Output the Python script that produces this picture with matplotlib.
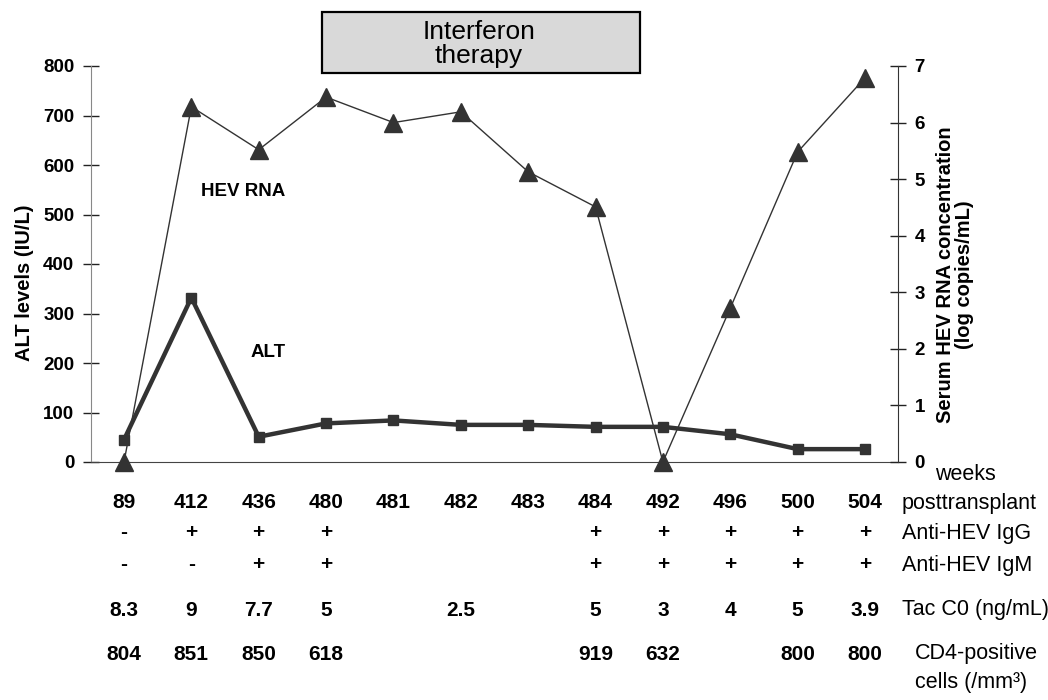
import matplotlib as mpl
mpl.use('Agg')
import matplotlib.pyplot as plt
import matplotlib.patches as patches
import matplotlib.transforms as mtrans

plt.rcParams['font.family'] = ['Liberation Sans', 'DejaVu Sans']

# data
weeks = ['89', '412', '436', '480', '481', '482', '483', '484', '492', '496', '500', '504']
alt = [45, 332, 51, 78, 84, 75, 75, 71, 71, 56, 26, 26]
hev_rna = [0, 6.28, 5.52, 6.45, 6.0, 6.19, 5.13, 4.51, 0, 2.72, 5.48, 6.79]
igg = ['-', '+', '+', '+', '', '', '', '+', '+', '+', '+', '+']
igm = ['-', '-', '+', '+', '', '', '', '+', '+', '+', '+', '+']
tac_c0 = ['8.3', '9', '7.7', '5', '', '2.5', '', '5', '3', '4', '5', '3.9']
cd4 = ['804', '851', '850', '618', '', '', '', '919', '632', '', '800', '800']

W, H = 1048, 700
fig = plt.figure(figsize=(W / 100, H / 100), dpi=100)

def fx(px):
    return px / W

def fy(py):
    return 1 - py / H

# axes box in pixels: left 91, right 898, top 66, bottom 462
ax = fig.add_axes([fx(91), fy(462), fx(898) - fx(91), fy(66) - fy(462)])
ax2 = ax.twinx()

xs = list(range(len(weeks)))
ink = '#333333'

ax.plot(xs, alt, color=ink, lw=3.2, marker='s', ms=7, clip_on=False, zorder=3)
ax2.plot(xs, hev_rna, color=ink, lw=1.0, marker='^', ms=13, clip_on=False, zorder=3)

ax.set_xlim(-0.49, len(weeks) - 0.51)
ax.set_ylim(0, 800)
ax2.set_ylim(0, 7)
ax.set_yticks(range(0, 801, 100))
ax2.set_yticks(range(0, 8))
ax.set_xticks([])

for s in ['top', 'right']:
    ax.spines[s].set_visible(False)
for s in ['top', 'left', 'bottom']:
    ax2.spines[s].set_visible(False)
ax.spines['left'].set_color('#888888')
ax.spines['bottom'].set_color('#444444')
ax2.spines['right'].set_color('#333333')

ax.tick_params(axis='y', direction='inout', length=12, width=1, color='#222222',
               pad=6, labelsize=13.5)
ax2.tick_params(axis='y', direction='inout', length=12, width=1, color='#222222',
                pad=6, labelsize=13.5)
for lab in ax.get_yticklabels() + ax2.get_yticklabels():
    lab.set_fontweight('bold')

fig.text(fx(25), fy(283), 'ALT levels (IU/L)', rotation=90, ha='center', va='center',
         fontsize=14.5, fontweight='bold')
fig.text(fx(955), fy(275), 'Serum HEV RNA concentration\n(log copies/mL)', rotation=90,
         ha='center', va='center', fontsize=14.5, fontweight='bold', linespacing=1.0)

# series labels
ax.text(1.14, 546, 'HEV RNA', fontsize=13.5, fontweight='bold', va='center')
ax.text(1.88, 222, 'ALT', fontsize=13.5, fontweight='bold', va='center')

# interferon box
box = patches.Rectangle((fx(322), fy(73)), fx(640) - fx(322), fy(12) - fy(73),
                        transform=fig.transFigure, facecolor='#d9d9d9',
                        edgecolor='black', lw=1.6)
fig.add_artist(box)
fig.text(fx(479), fy(44), 'Interferon\ntherapy', ha='center', va='center',
         fontsize=19, linespacing=0.95)

# table under the chart
tr = mtrans.blended_transform_factory(ax.transData, fig.transFigure)
rows = [(weeks, 503), (igg, 533), (igm, 565), (tac_c0, 610), (cd4, 655)]
for vals, py in rows:
    for i, v in enumerate(vals):
        if v:
            ax.text(i, fy(py), v, transform=tr, ha='center', va='center',
                    fontsize=15, fontweight='bold')

fig.text(fx(935), fy(475), 'weeks', ha='left', va='center', fontsize=15.5)
fig.text(fx(902), fy(503), 'posttransplant', ha='left', va='center', fontsize=15.5)
fig.text(fx(902), fy(533), 'Anti-HEV IgG', ha='left', va='center', fontsize=15.5)
fig.text(fx(902), fy(565), 'Anti-HEV IgM', ha='left', va='center', fontsize=15.5)
fig.text(fx(902), fy(610), 'Tac C0 (ng/mL)', ha='left', va='center', fontsize=15.5)
fig.text(fx(915), fy(668), 'CD4-positive\ncells (/mm³)', ha='left', va='center',
         fontsize=15.5, linespacing=1.45)

fig.savefig('out.png', dpi=100)
